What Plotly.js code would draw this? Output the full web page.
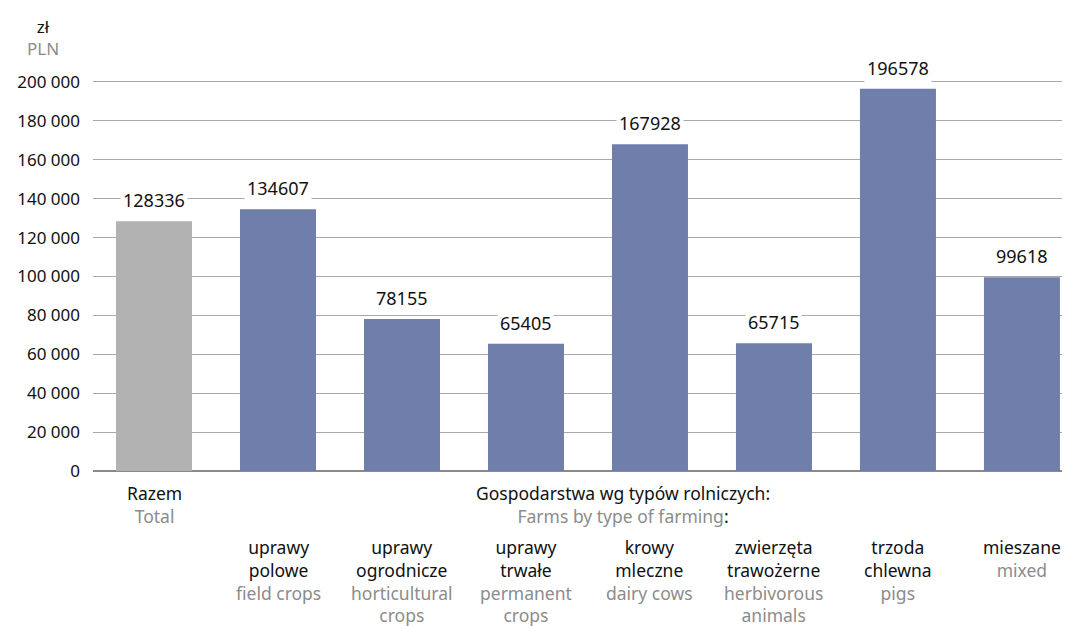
<!DOCTYPE html>
<html>
<head>
<meta charset="utf-8">
<script src="https://cdn.plot.ly/plotly-3.0.1.min.js"></script>
<style>html,body{margin:0;padding:0;background:#fff;}#chart{width:1072px;height:626px;}</style>
</head>
<body>
<div id="chart"></div>
<script>
// ---- data ----
const categoriesPL = ["Razem", "uprawy<br>polowe", "uprawy<br>ogrodnicze", "uprawy<br>trwałe", "krowy<br>mleczne", "zwierzęta<br>trawożerne", "trzoda<br>chlewna", "mieszane"];
const categoriesEN = ["Total", "field crops", "horticultural<br>crops", "permanent<br>crops", "dairy cows", "herbivorous<br>animals", "pigs", "mixed"];
const values = [128336, 134607, 78155, 65405, 167928, 65715, 196578, 99618];
const yTicks = [0, 20000, 40000, 60000, 80000, 100000, 120000, 140000, 160000, 180000, 200000];
const groupTitlePL = "Gospodarstwa wg typów rolniczych:";
const groupTitleEN = "Farms by type of farming";
const unitPL = "zł";
const unitEN = "PLN";

const BLUE = "#6f7eab", GREY = "#b2b2b2", EN = "#8c8c8c";
const FONT = "Noto Sans, Open Sans, sans-serif";
const idx = values.map((v, i) => i);

const trace = {
  type: "bar",
  x: idx,
  y: values,
  width: 0.613,
  marker: { color: idx.map(i => i === 0 ? GREY : BLUE) },
  hoverinfo: "none"
};

const annotations = [];
// value labels
values.forEach((v, i) => {
  annotations.push({
    x: i, y: v, xref: "x", yref: "y",
    text: String(v), showarrow: false,
    yanchor: "bottom", yshift: 6,
    bgcolor: "#ffffff", borderpad: 2,
    font: { family: FONT, size: 18, color: "#111" }
  });
});
// category labels
idx.forEach(i => {
  const txt = categoriesPL[i] + "<br><span style='color:" + EN + "'>" + categoriesEN[i] + "</span>";
  annotations.push({
    x: i, y: 0, xref: "x", yref: "y",
    text: txt, showarrow: false,
    yanchor: "top", yshift: i === 0 ? -8 : -62,
    font: { family: FONT, size: 17.5, color: "#111" }
  });
});
// group title
annotations.push({
  x: 3.78, y: 0, xref: "x", yref: "y",
  text: groupTitlePL + "<br><span style='color:" + EN + "'>" + groupTitleEN + "</span>:",
  showarrow: false, yanchor: "top", yshift: -8,
  font: { family: FONT, size: 17.5, color: "#111" }
});
// unit label
annotations.push({
  x: -0.052, y: 1.0, xref: "paper", yref: "paper",
  text: unitPL + "<br><span style='color:" + EN + "'>" + unitEN + "</span>",
  showarrow: false, yanchor: "bottom", xanchor: "center", yshift: -2,
  font: { family: FONT, size: 17, color: "#111" }
});

const layout = {
  width: 1072, height: 626,
  margin: { l: 93, r: 10, t: 60, b: 155 },
  paper_bgcolor: "#fff", plot_bgcolor: "#fff",
  separators: ", ",
  showlegend: false,
  font: { family: FONT, size: 17, color: "#111" },
  xaxis: {
    range: [-0.492, 7.323], showticklabels: false, showgrid: false,
    zeroline: false, ticks: "", fixedrange: true
  },
  yaxis: {
    range: [0, 211300], tickvals: yTicks, tickformat: ",d",
    showgrid: true, gridcolor: "#a8a8a8", gridwidth: 1,
    zeroline: true, zerolinecolor: "#8a8a8a", zerolinewidth: 1.5,
    showline: false, ticks: "", ticklabelstandoff: 12,
    tickfont: { family: FONT, size: 17, color: "#111" }
  },
  annotations: annotations
};

Plotly.newPlot("chart", [trace], layout, { displayModeBar: false, staticPlot: true });
</script>
</body>
</html>
